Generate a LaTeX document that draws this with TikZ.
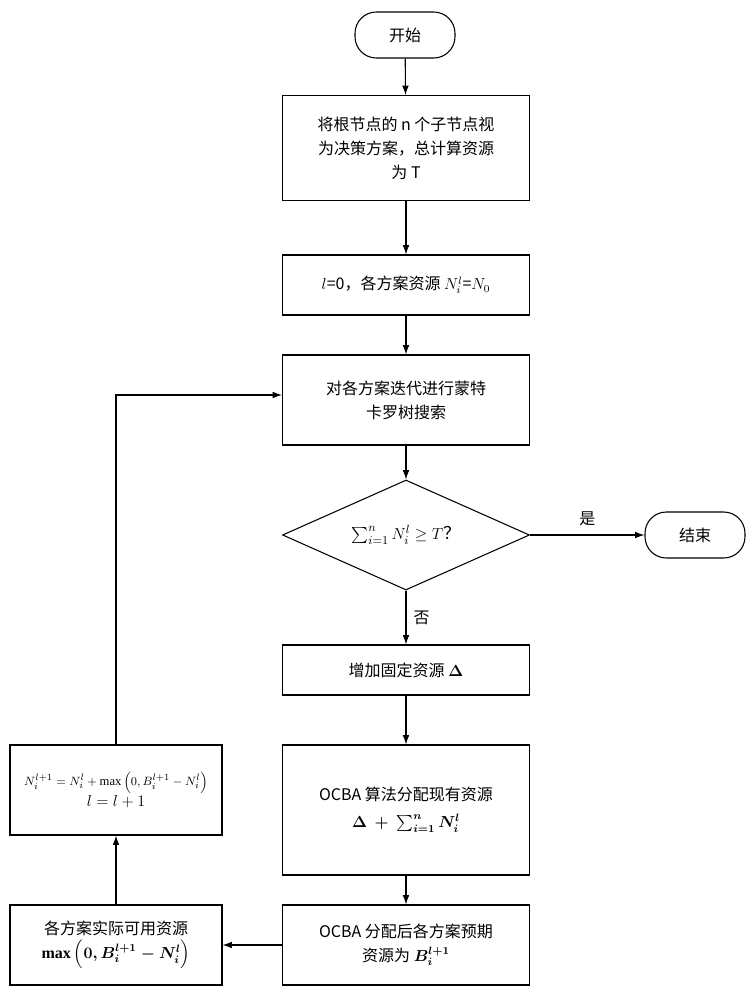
\documentclass[tikz,border=0pt]{standalone}
\usepackage{fontspec}
\usepackage{amsmath}
\setmainfont{Liberation Serif}
\newfontfamily\cjk{Noto Sans CJK SC}
\usetikzlibrary{shapes.geometric,arrows.meta}
\begin{document}
\begin{tikzpicture}[x=0.75pt,y=-0.75pt,
  box/.style={draw,thick,minimum width=247*0.75pt,align=center,font=\cjk\fontsize{12}{18}\selectfont},
  term/.style={draw,thick,rounded corners=16pt,minimum width=100*0.75pt,minimum height=46*0.75pt,font=\cjk\fontsize{12}{14}\selectfont},
  arr/.style={-{Latex[length=7pt,width=5pt]},thick}]
\useasboundingbox (0,0) rectangle (751,1000);
\node[term] (start) at (405,35) {开始};
\node[box,minimum height=105*0.75pt] (b1) at (406,148) {将根节点的 n 个子节点视\\为决策方案，总计算资源\\为 T};
\node[box,minimum height=60*0.75pt] (b2) at (406,285) {$l$=0，各方案资源 $N_i^l$=$N_0$};
\node[box,minimum height=90*0.75pt] (b3) at (406,400) {对各方案迭代进行蒙特\\卡罗树搜索};
\node[draw,thick,diamond,aspect=2.25,minimum width=247*0.75pt,minimum height=110*0.75pt,inner sep=0pt,font=\cjk\fontsize{13}{14}\selectfont] (d) at (406,535) {$\sum_{i=1}^{n} N_i^l \geq T$？};
\node[term] (end) at (695,535) {结束};
\node[box,minimum height=50*0.75pt] (b4) at (406,670) {增加固定资源 $\boldsymbol{\Delta}$};
\node[box,minimum height=130*0.75pt] (b5) at (406,810) {OCBA 算法分配现有资源\\[2pt] $\boldsymbol{\Delta\ +\ \sum_{i=1}^{n} N_i^l}$};
\node[box,minimum height=80*0.75pt] (b6) at (406,945) {OCBA 分配后各方案预期\\资源为 $\boldsymbol{B_i^{l+1}}$};
\node[box,minimum width=212*0.75pt,minimum height=80*0.75pt] (b7) at (116,945) {各方案实际可用资源\\ $\boldsymbol{\max\left(0,B_i^{l+1}-N_i^l\right)}$};
\node[box,minimum width=212*0.75pt,minimum height=90*0.75pt,font=\fontsize{9.5}{16}\selectfont] (b8) at (116,790) {$N_i^{l+1}=N_i^l+\max\left(0,B_i^{l+1}-N_i^l\right)$\\ {\fontsize{12}{14}\selectfont $l=l+1$}};
\coordinate (c1) at (116,395);
\draw[arr] (start) -- (b1);
\draw[arr] (b1) -- (b2);
\draw[arr] (b2) -- (b3);
\draw[arr] (b3) -- (d);
\draw[arr] (d) -- node[above=3pt,font=\cjk\fontsize{12}{14}\selectfont]{是} (end);
\draw[arr] (d) -- node[right=2pt,font=\cjk\fontsize{12}{14}\selectfont]{否} (b4);
\draw[arr] (b4) -- (b5);
\draw[arr] (b5) -- (b6);
\draw[arr] (b6) -- (b7);
\draw[arr] (b7) -- (b8);
\draw[arr] (b8) -- (c1) -- (b3.west |- c1);
\end{tikzpicture}
\end{document}
